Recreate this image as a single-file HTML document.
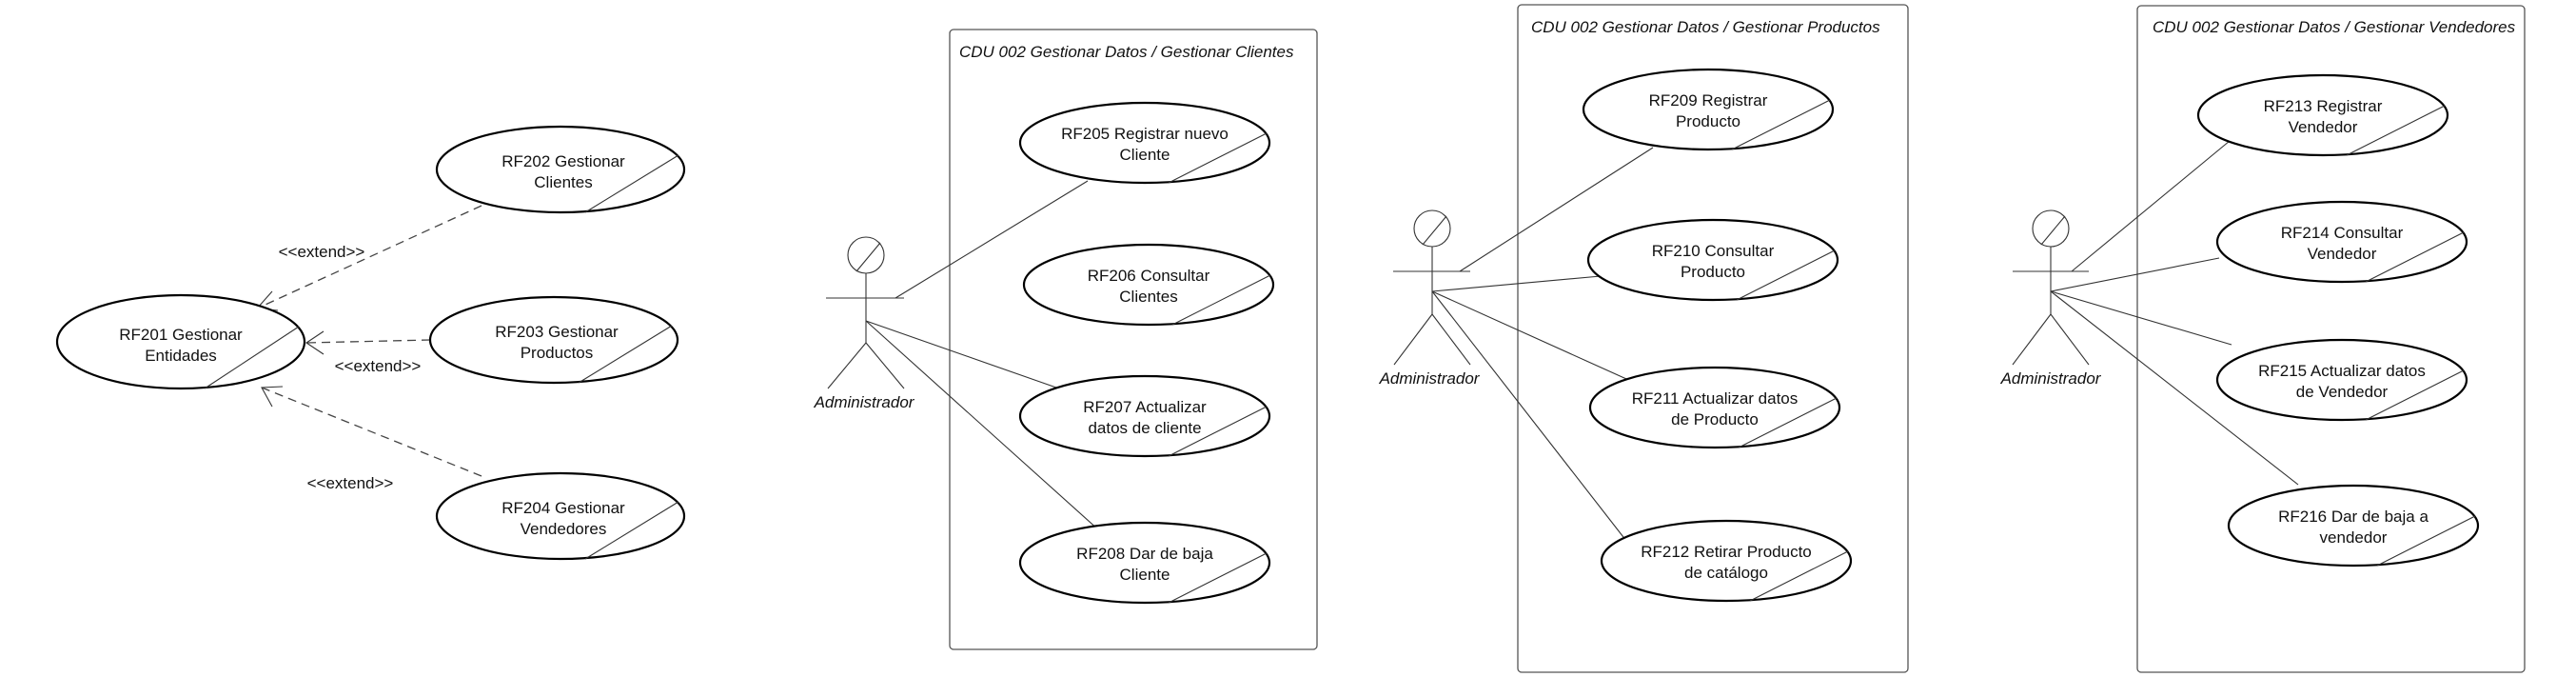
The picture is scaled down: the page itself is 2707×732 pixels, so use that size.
<!DOCTYPE html>
<html><head><meta charset="utf-8"><style>
html,body{margin:0;padding:0;background:#fff;}
svg{display:block;}
text{font-family:"Liberation Sans",sans-serif;font-size:17px;fill:#111;}
.t{font-style:italic;font-size:17px;}
.e{fill:#fff;stroke:#000;stroke-width:2.2;}
.l{stroke:#333;stroke-width:1.1;fill:none;}
.d{stroke:#444;stroke-width:1.3;fill:none;stroke-dasharray:9 6;}
.b{fill:none;stroke:#555;stroke-width:1.3;}
</style></head><body>
<svg width="2707" height="732" viewBox="0 0 2707 732">
<!-- Left group -->
<line class="d" x1="506" y1="216" x2="270" y2="324"/>
<polyline class="l" points="286,306 270,324 292,326"/>
<line class="d" x1="452" y1="357" x2="322" y2="360"/>
<polyline class="l" points="340,348 322,360 340,372"/>
<line class="d" x1="506" y1="500" x2="275" y2="407"/>
<polyline class="l" points="297,406 275,407 286,427"/>
<text x="338" y="270" text-anchor="middle">&lt;&lt;extend&gt;&gt;</text>
<text x="397" y="390" text-anchor="middle">&lt;&lt;extend&gt;&gt;</text>
<text x="368" y="513" text-anchor="middle">&lt;&lt;extend&gt;&gt;</text>

<ellipse class="e" cx="190" cy="359" rx="130" ry="49"/>
<line class="l" x1="314" y1="343" x2="215" y2="408"/>
<text x="190" y="357" text-anchor="middle">RF201 Gestionar</text>
<text x="190" y="379" text-anchor="middle">Entidades</text>

<ellipse class="e" cx="589" cy="178" rx="130" ry="45"/>
<line class="l" x1="713" y1="163" x2="615" y2="223"/>
<text x="592" y="175" text-anchor="middle">RF202 Gestionar</text>
<text x="592" y="197" text-anchor="middle">Clientes</text>

<ellipse class="e" cx="582" cy="357" rx="130" ry="45"/>
<line class="l" x1="706" y1="342" x2="608" y2="402"/>
<text x="585" y="354" text-anchor="middle">RF203 Gestionar</text>
<text x="585" y="376" text-anchor="middle">Productos</text>

<ellipse class="e" cx="589" cy="542" rx="130" ry="45"/>
<line class="l" x1="713" y1="527" x2="615" y2="587"/>
<text x="592" y="539" text-anchor="middle">RF204 Gestionar</text>
<text x="592" y="561" text-anchor="middle">Vendedores</text>

<!-- Box 1 Clientes -->
<rect class="b" x="998" y="31" width="386" height="651" rx="4"/>
<text class="t" x="1008" y="60">CDU 002 Gestionar Datos  / Gestionar Clientes</text>
<circle class="l" cx="910" cy="268" r="19"/>
<line class="l" x1="900" y1="285" x2="925" y2="255"/>
<line class="l" x1="910" y1="287" x2="910" y2="360"/>
<line class="l" x1="868" y1="313" x2="950" y2="313"/>
<line class="l" x1="910" y1="360" x2="870" y2="408"/>
<line class="l" x1="910" y1="360" x2="950" y2="408"/>
<text class="t" x="908" y="428" text-anchor="middle">Administrador</text>
<line class="l" x1="941" y1="313" x2="1143" y2="190"/>
<line class="l" x1="910" y1="337" x2="1110" y2="407"/>
<line class="l" x1="910" y1="337" x2="1155" y2="557"/>

<ellipse class="e" cx="1203" cy="150" rx="131" ry="42"/>
<line class="l" x1="1331" y1="140" x2="1228" y2="192"/>
<text x="1203" y="146" text-anchor="middle">RF205 Registrar nuevo</text>
<text x="1203" y="168" text-anchor="middle">Cliente</text>
<ellipse class="e" cx="1207" cy="299" rx="131" ry="42"/>
<line class="l" x1="1335" y1="289" x2="1232" y2="341"/>
<text x="1207" y="295" text-anchor="middle">RF206 Consultar</text>
<text x="1207" y="317" text-anchor="middle">Clientes</text>
<ellipse class="e" cx="1203" cy="437" rx="131" ry="42"/>
<line class="l" x1="1331" y1="427" x2="1228" y2="479"/>
<text x="1203" y="433" text-anchor="middle">RF207 Actualizar</text>
<text x="1203" y="455" text-anchor="middle">datos de cliente</text>
<ellipse class="e" cx="1203" cy="591" rx="131" ry="42"/>
<line class="l" x1="1331" y1="581" x2="1228" y2="633"/>
<text x="1203" y="587" text-anchor="middle">RF208 Dar de baja</text>
<text x="1203" y="609" text-anchor="middle">Cliente</text>

<!-- Box 2 Productos -->
<rect class="b" x="1595" y="5" width="410" height="701" rx="4"/>
<text class="t" x="1609" y="34">CDU 002 Gestionar Datos  / Gestionar Productos</text>
<circle class="l" cx="1505" cy="240" r="19"/>
<line class="l" x1="1495" y1="257" x2="1520" y2="227"/>
<line class="l" x1="1505" y1="259" x2="1505" y2="330"/>
<line class="l" x1="1464" y1="285" x2="1545" y2="285"/>
<line class="l" x1="1505" y1="330" x2="1465" y2="383"/>
<line class="l" x1="1505" y1="330" x2="1545" y2="383"/>
<text class="t" x="1502" y="403" text-anchor="middle">Administrador</text>
<line class="l" x1="1534" y1="285" x2="1737" y2="155"/>
<line class="l" x1="1505" y1="306" x2="1682" y2="290"/>
<line class="l" x1="1505" y1="306" x2="1718" y2="402"/>
<line class="l" x1="1505" y1="306" x2="1709" y2="568"/>

<ellipse class="e" cx="1795" cy="115" rx="131" ry="42"/>
<line class="l" x1="1923" y1="105" x2="1820" y2="157"/>
<text x="1795" y="111" text-anchor="middle">RF209 Registrar</text>
<text x="1795" y="133" text-anchor="middle">Producto</text>
<ellipse class="e" cx="1800" cy="273" rx="131" ry="42"/>
<line class="l" x1="1928" y1="263" x2="1825" y2="315"/>
<text x="1800" y="269" text-anchor="middle">RF210 Consultar</text>
<text x="1800" y="291" text-anchor="middle">Producto</text>
<ellipse class="e" cx="1802" cy="428" rx="131" ry="42"/>
<line class="l" x1="1930" y1="418" x2="1827" y2="470"/>
<text x="1802" y="424" text-anchor="middle">RF211 Actualizar datos</text>
<text x="1802" y="446" text-anchor="middle">de Producto</text>
<ellipse class="e" cx="1814" cy="589" rx="131" ry="42"/>
<line class="l" x1="1942" y1="579" x2="1839" y2="631"/>
<text x="1814" y="585" text-anchor="middle">RF212 Retirar Producto</text>
<text x="1814" y="607" text-anchor="middle">de catálogo</text>

<!-- Box 3 Vendedores -->
<rect class="b" x="2246" y="6" width="407" height="700" rx="4"/>
<text class="t" x="2262" y="34">CDU 002 Gestionar Datos  / Gestionar Vendedores</text>
<circle class="l" cx="2155" cy="240" r="19"/>
<line class="l" x1="2145" y1="257" x2="2170" y2="227"/>
<line class="l" x1="2155" y1="259" x2="2155" y2="330"/>
<line class="l" x1="2115" y1="285" x2="2195" y2="285"/>
<line class="l" x1="2155" y1="330" x2="2115" y2="383"/>
<line class="l" x1="2155" y1="330" x2="2195" y2="383"/>
<text class="t" x="2155" y="403" text-anchor="middle">Administrador</text>
<line class="l" x1="2177" y1="285" x2="2343" y2="148"/>
<line class="l" x1="2155" y1="306" x2="2332" y2="271"/>
<line class="l" x1="2155" y1="306" x2="2345" y2="362"/>
<line class="l" x1="2155" y1="306" x2="2415" y2="509"/>

<ellipse class="e" cx="2441" cy="121" rx="131" ry="42"/>
<line class="l" x1="2569" y1="111" x2="2466" y2="163"/>
<text x="2441" y="117" text-anchor="middle">RF213 Registrar</text>
<text x="2441" y="139" text-anchor="middle">Vendedor</text>
<ellipse class="e" cx="2461" cy="254" rx="131" ry="42"/>
<line class="l" x1="2589" y1="244" x2="2486" y2="296"/>
<text x="2461" y="250" text-anchor="middle">RF214 Consultar</text>
<text x="2461" y="272" text-anchor="middle">Vendedor</text>
<ellipse class="e" cx="2461" cy="399" rx="131" ry="42"/>
<line class="l" x1="2589" y1="389" x2="2486" y2="441"/>
<text x="2461" y="395" text-anchor="middle">RF215 Actualizar datos</text>
<text x="2461" y="417" text-anchor="middle">de Vendedor</text>
<ellipse class="e" cx="2473" cy="552" rx="131" ry="42"/>
<line class="l" x1="2601" y1="542" x2="2498" y2="594"/>
<text x="2473" y="548" text-anchor="middle">RF216 Dar de baja a</text>
<text x="2473" y="570" text-anchor="middle">vendedor</text>
</svg>
</body></html>
